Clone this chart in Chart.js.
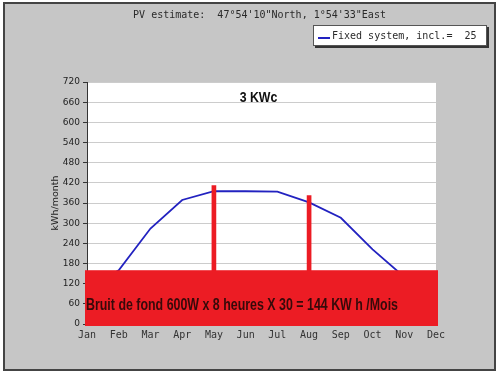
<!DOCTYPE html>
<html><head><meta charset="utf-8">
<script src="https://cdn.jsdelivr.net/npm/chart.js@4/dist/chart.umd.min.js"></script>
<style>html,body{margin:0;padding:0;background:#fff;}canvas{display:block}</style>
</head><body>
<canvas id="c" width="500" height="376"></canvas>
<script>
const months = ['Jan','Feb','Mar','Apr','May','Jun','Jul','Aug','Sep','Oct','Nov','Dec'];
const production = [105,160,284,369,395,395,394,362,316,222,140,95];
const markerValues = [null,null,null,null,412,null,null,382,null,null,null,null];
const yTicks = [0,60,120,180,240,300,360,420,480,540,600,660,720];
const noiseTop = 160;
const titleText = 'PV estimate:  47°54\'10"North, 1°54\'33"East';
const legendText = 'Fixed system, incl.=  25';
const powerLabel = '3 KWc';
const noiseLabel = 'Bruit de fond 600W x 8 heures X 30 = 144 KW h /Mois';
const yTitle = 'kWh/month';

const RED = '#ec1c24';
const BLUE = '#2222c0';

const decor = {
  id: 'decor',
  beforeDraw(chart) {
    const {ctx, chartArea: a, width, height} = chart;
    ctx.save();
    ctx.fillStyle = '#fff'; ctx.fillRect(0, 0, width, height);
    ctx.fillStyle = '#c6c6c6'; ctx.fillRect(4, 3, 491, 367);
    ctx.strokeStyle = '#444'; ctx.lineWidth = 2; ctx.strokeRect(4, 3, 491, 367);
    ctx.fillStyle = '#fff'; ctx.fillRect(a.left, a.top, a.right - a.left, a.bottom - a.top);
    ctx.restore();
  },
  afterDatasetsDraw(chart) {
    const {ctx, chartArea: a, scales: {x, y}} = chart;
    ctx.save();
    const top = y.getPixelForValue(noiseTop);
    const bottom = y.getPixelForValue(0) + 2;
    ctx.fillStyle = RED;
    ctx.fillRect(a.left - 2, top, a.right - a.left + 4, bottom - top);
    ctx.font = 'bold 16px "Liberation Sans", Arial, sans-serif';
    ctx.fillStyle = '#360a0a';
    ctx.textBaseline = 'middle';
    const w = ctx.measureText(noiseLabel).width;
    ctx.translate(a.left - 1, y.getPixelForValue(56));
    ctx.scale(312 / w, 1.05);
    ctx.fillText(noiseLabel, 0, 0);
    ctx.restore();
  },
  afterDraw(chart) {
    const {ctx, chartArea: a, scales: {y}} = chart;
    const cx = (a.left + a.right) / 2;
    ctx.save();
    ctx.font = '10px "DejaVu Sans Mono", monospace';
    ctx.fillStyle = '#2a2a2a';
    ctx.textAlign = 'center';
    ctx.textBaseline = 'middle';
    ctx.fillText(titleText, cx - 2, 15);
    // power label (slightly condensed)
    ctx.save();
    ctx.font = 'bold 14px "Liberation Sans", Arial, sans-serif';
    ctx.fillStyle = '#111';
    ctx.translate(cx - 3, y.getPixelForValue(672));
    ctx.scale(0.88, 1);
    ctx.fillText(powerLabel, 0, 0);
    ctx.restore();
    // legend box
    const bx = 313, by = 25, bw = 174, bh = 21;
    ctx.fillStyle = '#333';
    ctx.fillRect(bx + 2, by + 2, bw, bh);
    ctx.fillStyle = '#fff';
    ctx.fillRect(bx, by, bw, bh);
    ctx.strokeStyle = '#555'; ctx.lineWidth = 1;
    ctx.strokeRect(bx + 0.5, by + 0.5, bw - 1, bh - 1);
    ctx.strokeStyle = BLUE; ctx.lineWidth = 2;
    ctx.beginPath(); ctx.moveTo(bx + 5, by + 13); ctx.lineTo(bx + 17, by + 13); ctx.stroke();
    ctx.font = '10px "DejaVu Sans Mono", monospace';
    ctx.fillStyle = '#2a2a2a';
    ctx.textAlign = 'left';
    ctx.fillText(legendText, bx + 19, by + 11.5);
    ctx.restore();
  }
};

new Chart(document.getElementById('c'), {
  type: 'bar',
  data: {
    labels: months,
    datasets: [
      { type: 'bar', data: markerValues, backgroundColor: RED, barThickness: 4, order: 0 },
      { type: 'line', data: production, borderColor: BLUE, borderWidth: 1.8, pointRadius: 0, tension: 0, fill: false, order: 1 }
    ]
  },
  options: {
    responsive: false,
    animation: false,
    devicePixelRatio: 1,
    layout: { padding: { left: 40, right: 64, top: 82, bottom: 32 } },
    plugins: { legend: { display: false }, tooltip: { enabled: false }, title: { display: false } },
    scales: {
      x: {
        offset: false,
        grid: { display: false, drawTicks: false },
        border: { display: false },
        ticks: { font: { family: '"DejaVu Sans Mono", monospace', size: 10 }, color: '#333', padding: 5, maxRotation: 0, autoSkip: false },
        afterFit(s) { s.height = 20; }
      },
      y: {
        min: 0, max: 720,
        afterBuildTicks(s) { s.ticks = yTicks.map(v => ({ value: v })); },
        ticks: { font: { family: '"DejaVu Sans", sans-serif', size: 9 }, color: '#222', padding: 3 },
        grid: { color: '#cccccc', tickColor: '#333', tickLength: 4 },
        border: { color: '#333', width: 1 },
        title: { display: true, text: yTitle, font: { family: '"DejaVu Sans", sans-serif', size: 9.5 }, color: '#222', padding: { top: 10, bottom: 0 } },
        afterFit(s) { s.width = 47; }
      }
    }
  },
  plugins: [decor]
});
</script>
</body></html>
